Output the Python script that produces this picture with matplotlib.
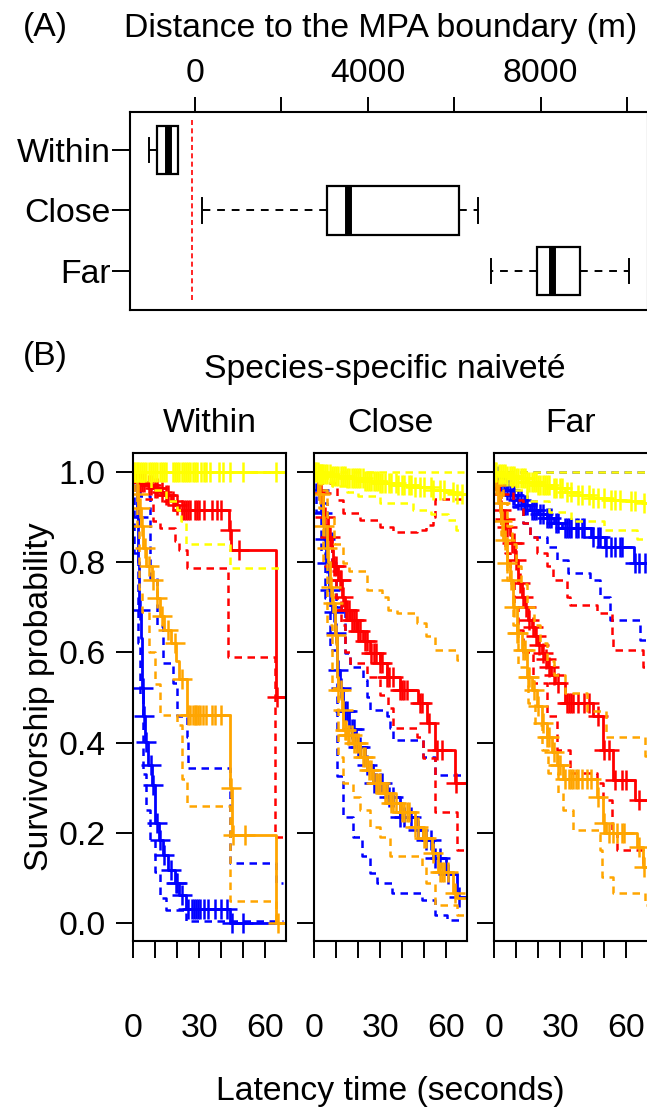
import numpy as np
import matplotlib
matplotlib.use('Agg')
import matplotlib.pyplot as plt

plt.rcParams['font.family'] = ['Liberation Sans', 'DejaVu Sans']
plt.rcParams['font.size'] = 24.3

# ---- panel A: distance to the MPA boundary (m) ----
groups = ['Within', 'Close', 'Far']
whislo = [-1056, 171, 6858]
q1 = [-876, 3062, 7917]
med = [-610, 3540, 8262]
q3 = [-381, 6105, 8900]
whishi = [-381, 6553, 10046]
boundary_x = -70
dist_ticks = [0, 2000, 4000, 6000, 8000, 10000]
dist_labels = ['0', '', '4000', '', '8000', '']

# ---- panel B: survival curves (step times, survival after step, censor times, CI) ----
# Within
within_blue_t = [1.5, 2.3, 2.7, 3.5, 4.0, 4.5, 5.5, 6.5, 8.5, 10, 11.5, 13.5, 16, 19, 21, 24, 44]
within_blue_s = [0.90, 0.80, 0.694, 0.632, 0.52, 0.458, 0.402, 0.35, 0.306, 0.221, 0.185, 0.151, 0.118, 0.089, 0.063, 0.031, 0.0]
within_blue_c = [2, 3, 4.3, 5, 6, 8, 9, 11, 12, 14, 17, 19.5, 20, 22, 25, 26.5, 27.5, 28.5, 29.5, 30.5, 32, 34, 37, 40, 42.5, 45, 50]
within_blue_hi_t = [2, 3, 7.6, 10.6, 13.6, 18.2, 19.7, 24.5, 25, 44, 65]
within_blue_hi_s = [0.99, 0.945, 0.764, 0.657, 0.576, 0.531, 0.458, 0.413, 0.343, 0.133, 0.089]
within_blue_lo_t = [0.5, 2, 3, 4.5, 6, 7.6, 10, 12, 15, 24]
within_blue_lo_s = [0.82, 0.62, 0.50, 0.33, 0.25, 0.185, 0.114, 0.055, 0.03, 0.004]

within_red_t = [0.8, 6, 9, 12, 14, 17, 19, 21, 43.5, 44.5, 65]
within_red_s = [0.977, 0.97, 0.963, 0.955, 0.947, 0.935, 0.925, 0.914, 0.87, 0.827, 0.50]
within_red_c = [2, 3, 4, 5, 7, 8, 10, 11, 13, 15, 16, 18, 20, 22, 23, 24, 25, 26, 28, 29, 30, 32, 36, 38, 40, 44, 48, 65.5]
within_red_hi_t = []
within_red_hi_s = []
within_red_lo_t = [2, 9, 12, 19, 21, 24.5, 43.2, 64.5]
within_red_lo_s = [0.94, 0.89, 0.874, 0.847, 0.827, 0.787, 0.59, 0.19]

within_orange_t = [0.5, 1.5, 2.3, 3.4, 4.5, 6, 8.5, 10.6, 12, 14, 17, 19.5, 21, 24.5, 44, 44.8, 64.7]
within_orange_s = [0.98, 0.95, 0.92, 0.88, 0.83, 0.79, 0.76, 0.72, 0.68, 0.65, 0.62, 0.58, 0.54, 0.46, 0.30, 0.195, 0.0]
within_orange_c = [2, 3, 4, 5.5, 7, 9, 11, 13, 16, 19, 22, 25, 26, 27, 28, 28.7, 29.5, 30.5, 31.5, 33, 36, 37, 40, 44.5, 45.5, 51, 66]
within_orange_hi_t = None
within_orange_hi_s = None
within_orange_lo_t = [0.5, 1.5, 2.5, 4, 7, 10, 12, 19.7, 22, 24.5, 44, 64.7]
within_orange_lo_s = [0.95, 0.87, 0.74, 0.69, 0.6, 0.53, 0.46, 0.44, 0.32, 0.26, 0.05, 0.0]

within_yellow_t = []
within_yellow_s = []
within_yellow_c = [0.5, 1, 1.5, 2, 3, 4, 5, 6, 7, 8, 9, 10, 11, 12, 13, 14, 15, 18, 19, 20, 21, 22, 23, 24, 25,
                   26, 27, 28, 29, 31, 32, 33, 35, 39, 41, 44, 50, 65]
within_yellow_hi_t = []
within_yellow_hi_s = []
within_yellow_lo_t = [3, 8, 15, 20, 21.5, 24, 44]
within_yellow_lo_s = [0.98, 0.96, 0.935, 0.914, 0.89, 0.84, 0.787]

# Close
close_blue_t = [1.5, 3, 4.5, 5.5, 6.5, 8, 9.5, 10.5, 11.5, 13, 16, 19, 23, 26.8, 32.9, 38.9, 46.5, 49.5, 54, 60, 64.7]
close_blue_s = [0.96, 0.908, 0.85, 0.797, 0.738, 0.69, 0.642, 0.56, 0.52, 0.47, 0.43, 0.39, 0.35, 0.31, 0.28, 0.236, 0.207, 0.185, 0.144, 0.11, 0.059]
close_blue_c = [2, 3.5, 5, 6, 7, 9, 10, 11, 12, 14, 15, 17, 18, 20, 21, 24, 27, 28, 30, 31, 34, 36, 39, 41, 44, 47, 51, 53, 55, 57, 61, 66]
close_blue_hi_t = [2, 4, 6, 8, 10, 13.9, 16.2, 22.3, 23.8, 25.3, 32.9, 34.4, 35.9, 49.5, 54.8]
close_blue_hi_s = [0.97, 0.93, 0.87, 0.80, 0.70, 0.598, 0.568, 0.539, 0.50, 0.472, 0.458, 0.432, 0.406, 0.369, 0.328]
close_blue_lo_t = [1, 3, 5, 7.1, 10.2, 13.2, 17.7, 21.5, 25.3, 28.3, 35.2, 48.8, 54.8, 60.2]
close_blue_lo_s = [0.91, 0.82, 0.72, 0.605, 0.325, 0.236, 0.192, 0.148, 0.111, 0.09, 0.066, 0.052, 0.018, 0.007]

close_red_t = [1.8, 4.1, 6.4, 7.9, 8.6, 10.9, 12.4, 13.9, 16.2, 19.2, 22.3, 25.3, 29.8, 32.9, 38.9, 47.3, 51.1, 54.8, 63.9]
close_red_s = [0.952, 0.90, 0.856, 0.827, 0.79, 0.76, 0.723, 0.694, 0.672, 0.646, 0.624, 0.598, 0.576, 0.546, 0.517, 0.487, 0.443, 0.384, 0.31]
close_red_c = [3, 5, 7, 9, 10, 11.5, 12, 13, 14.5, 15, 16, 17, 18, 19, 20, 21, 23, 24, 26, 27, 28, 30, 31, 33, 34, 36,
               39, 40, 41, 42, 48, 49, 52, 56, 58, 64.5]
close_red_hi_t = [3.3, 10.2, 13.2, 20.8, 29.8, 35.9, 46.5, 51, 54, 54.8]
close_red_hi_s = [0.974, 0.937, 0.908, 0.893, 0.878, 0.867, 0.871, 0.882, 0.90, 0.94]
close_red_lo_t = [2, 4, 6, 8, 10, 12, 13.9, 16.2, 23.8, 29.8, 33.6, 35.9, 46.5, 49.5, 54.8, 64.7]
close_red_lo_s = [0.96, 0.9, 0.85, 0.78, 0.72, 0.66, 0.60, 0.576, 0.546, 0.505, 0.476, 0.432, 0.413, 0.365, 0.247, 0.162]

close_orange_t = [1.8, 4.1, 5.6, 6.4, 7.1, 8, 9.4, 10.2, 10.9, 12.4, 13.2, 14.7, 17.7, 20.8, 23.8, 26.8, 31.4, 34.4,
                  38.9, 45.8, 49.5, 53.3, 56.4, 63.2, 64.7]
close_orange_s = [0.95, 0.88, 0.83, 0.80, 0.745, 0.708, 0.638, 0.546, 0.517, 0.472, 0.428, 0.417, 0.399, 0.369, 0.339,
                  0.31, 0.288, 0.266, 0.247, 0.214, 0.188, 0.155, 0.114, 0.066, 0.055]
close_orange_c = [2.5, 4.5, 6, 7.5, 8.5, 9.8, 11, 12, 13, 13.8, 14.5, 15.5, 16, 17, 18, 19, 20, 22, 23, 25, 26, 28, 29,
                  30, 32, 33, 35, 36, 37, 40, 41, 42, 43, 46, 47, 50, 51, 54, 57, 58, 59, 61, 64]
close_orange_hi_t = [3, 6, 9, 13, 16, 23.8, 30.6, 33.6, 37.4, 46.5, 51, 54.8, 64.7]
close_orange_hi_s = [0.96, 0.90, 0.84, 0.797, 0.78, 0.738, 0.723, 0.694, 0.686, 0.664, 0.635, 0.605, 0.583]
close_orange_lo_t = [2, 4, 6, 8, 10.9, 13.2, 17.7, 20.8, 25.3, 29.8, 34.4, 48.8, 51, 54.8, 64.7]
close_orange_lo_s = [0.92, 0.8, 0.66, 0.52, 0.369, 0.31, 0.28, 0.251, 0.214, 0.192, 0.148, 0.125, 0.089, 0.041, 0.018]

close_yellow_t = [2, 8, 15, 23, 30, 38, 46, 54, 60, 64]
close_yellow_s = [0.995, 0.99, 0.985, 0.98, 0.975, 0.97, 0.965, 0.96, 0.955, 0.95]
close_yellow_c = [0.5, 1, 1.5, 2, 2.5, 3, 3.5, 4, 5, 6, 7, 8, 9, 10, 11, 12, 13, 14, 15, 16, 17, 18, 19, 20, 21, 22,
                  23, 24, 25, 26, 27, 28, 29, 30, 31, 32, 34, 35, 37, 38, 40, 41, 43, 44, 46, 48, 50, 53, 54, 57, 59,
                  63, 65, 67]
close_yellow_hi_t = []
close_yellow_hi_s = []
close_yellow_lo_t = [2, 8, 15, 20, 30, 45, 53, 61, 64.5]
close_yellow_lo_s = [0.985, 0.967, 0.955, 0.945, 0.93, 0.915, 0.905, 0.893, 0.871]

# Far
far_blue_t = [1, 2.6, 4, 5.6, 8, 10.2, 13, 16.2, 20, 23.8, 27, 31, 44, 50.5, 63.5]
far_blue_s = [0.99, 0.98, 0.97, 0.96, 0.948, 0.937, 0.926, 0.915, 0.906, 0.897, 0.886, 0.875, 0.856, 0.834, 0.797]
far_blue_c = [1.5, 3, 4.5, 6, 7, 8.5, 9, 11, 12, 13.5, 14, 15, 17, 18, 19, 21, 22, 24, 25, 26, 28, 29, 32, 33, 34,
              35, 37, 38, 40, 41, 45, 47, 48, 51, 53, 55, 57, 58, 64, 66, 68.5]
far_blue_hi_t = []
far_blue_hi_s = []
far_blue_lo_t = [3, 5, 8.6, 13.2, 16.2, 23.8, 28.3, 33.6, 43.5, 48, 52.6, 66.2]
far_blue_lo_s = [0.985, 0.96, 0.922, 0.886, 0.856, 0.834, 0.804, 0.775, 0.76, 0.723, 0.672, 0.627]

far_red_t = [1, 2, 2.6, 4, 5.6, 7, 7.9, 9.4, 10.9, 12.4, 14, 15.5, 17, 18.5, 20, 21.5, 23, 24.5, 26, 27.6, 32.1, 45,
             49.5, 54.1, 63.9]
far_red_s = [0.98, 0.95, 0.915, 0.895, 0.878, 0.86, 0.841, 0.804, 0.753, 0.723, 0.70, 0.672, 0.655, 0.635, 0.615,
             0.598, 0.585, 0.568, 0.55, 0.531, 0.487, 0.458, 0.384, 0.317, 0.273]
far_red_c = [2, 3, 5, 6, 8, 9, 10, 11.5, 13, 14.5, 16, 17.5, 19, 20.5, 22, 23.5, 25, 27, 29, 33, 34, 35, 36, 38, 41,
             43, 47, 50, 52, 55, 58, 60, 66]
far_red_hi_t = [2.6, 8.6, 13.2, 16.2, 19.2, 23.8, 26.8, 32.9, 34.4, 46.5, 53.3, 54.1, 67.7]
far_red_hi_s = [0.974, 0.937, 0.886, 0.856, 0.82, 0.79, 0.76, 0.723, 0.705, 0.686, 0.635, 0.605, 0.568]
far_red_lo_t = [1, 3, 5, 7, 9, 11, 13, 17.7, 23.8, 28.3, 34.4, 46.5, 49.5, 53.3, 55.6, 67.7]
far_red_lo_s = [0.95, 0.88, 0.82, 0.76, 0.70, 0.65, 0.60, 0.531, 0.458, 0.384, 0.332, 0.31, 0.273, 0.20, 0.162, 0.133]

far_orange_t = [0.5, 1.8, 3, 4.1, 5.6, 7.1, 8.6, 10.2, 12.4, 14.7, 17, 19.2, 21.5, 23.8, 26.1, 28.3, 31.4, 46.5,
                49.5, 51, 64.7, 67.7]
far_orange_s = [0.97, 0.93, 0.89, 0.849, 0.797, 0.76, 0.70, 0.642, 0.605, 0.546, 0.517, 0.48, 0.443, 0.413, 0.38,
                0.35, 0.32, 0.28, 0.221, 0.2, 0.17, 0.125]
far_orange_c = [1, 2.5, 3.5, 5, 6, 7.5, 9, 10.5, 11, 13, 14, 15.5, 16, 18, 20, 22, 24, 25, 27, 29, 30, 32, 34, 35,
                36, 37, 38, 40, 42, 44, 47, 50, 52, 54, 56, 58, 59, 66, 68]
far_orange_hi_t = [2, 4, 6, 8, 10, 12, 15, 18, 21, 24, 27, 32, 42, 51, 68.5]
far_orange_hi_s = [0.97, 0.93, 0.88, 0.84, 0.79, 0.75, 0.70, 0.66, 0.62, 0.58, 0.55, 0.51, 0.47, 0.413, 0.37]
far_orange_lo_t = [3, 6, 8.6, 10.9, 15.5, 18.5, 21.5, 24.5, 29, 31.4, 36, 48, 48.8, 54, 68.5]
far_orange_lo_s = [0.86, 0.76, 0.66, 0.568, 0.487, 0.44, 0.384, 0.332, 0.288, 0.25, 0.207, 0.162, 0.103, 0.066, 0.04]

far_yellow_t = [2, 6, 10, 15, 20, 26, 32, 38, 45, 52, 60, 67]
far_yellow_s = [0.995, 0.99, 0.985, 0.977, 0.97, 0.963, 0.955, 0.948, 0.942, 0.938, 0.934, 0.93]
far_yellow_c = [0.5, 1, 2, 3, 4, 5, 6, 7, 8, 9, 10, 11, 12, 13, 14, 15, 16, 17, 18, 19, 20, 21, 22, 23, 24, 25, 27,
                28, 30, 31, 33, 35, 38, 40, 43, 45, 47, 50, 53, 55, 57, 62, 64, 68]
far_yellow_hi_t = []
far_yellow_hi_s = []
far_yellow_lo_t = [3, 8, 15, 25, 35, 50, 65]
far_yellow_lo_s = [0.98, 0.96, 0.935, 0.91, 0.89, 0.87, 0.85]

colors = {'blue': '#0000FF', 'red': '#FF0000', 'orange': '#FFA500', 'yellow': '#FFFF00'}
draw_order = ['blue', 'red', 'orange', 'yellow']
end_time = {'Within': 68, 'Close': 68, 'Far': 71}


def step_xy(t, s, end):
    x = [0.0] + list(t) + [end]
    y = [1.0] + list(s) + [s[-1] if len(s) else 1.0]
    return x, y


def surv_at(t, s, c):
    idx = np.searchsorted(np.asarray(t, float), np.asarray(c, float), side='right') - 1
    sv = np.asarray([1.0] + list(s))
    return sv[idx + 1]


W, H = 647, 1120
fig = plt.figure(figsize=(W / 100, H / 100), dpi=100)

# ---------------- panel A ----------------
axA = fig.add_axes([130 / W, 1 - 310 / H, 518 / W, 197.7 / H])
stats = []
for i, g in enumerate(groups):
    stats.append(dict(label=g, med=med[i], q1=q1[i], q3=q3[i],
                      whislo=whislo[i], whishi=whishi[i], fliers=[]))
axA.bxp(stats, positions=[1, 2, 3], widths=0.8, orientation='horizontal',
        patch_artist=True, showfliers=False, capwidths=0.4,
        boxprops=dict(facecolor='white', edgecolor='black', lw=1.6),
        medianprops=dict(color='black', lw=5, solid_capstyle='butt'),
        whiskerprops=dict(color='black', lw=1.4, linestyle=(0, (4, 3.5))),
        capprops=dict(color='black', lw=1.4))
axA.vlines(boundary_x, 0.5, 3.5, color='red', lw=1.2, linestyles=(0, (3, 2)))
axA.set_xlim(-1496, 10480)
axA.set_ylim(3.645, 0.377)
axA.set_yticks([1, 2, 3])
axA.set_yticklabels(groups)
axA.xaxis.tick_top()
axA.set_xticks(dist_ticks)
axA.set_xticklabels(dist_labels)
axA.tick_params(axis='x', length=11, width=1.4, pad=6)
axA.tick_params(axis='y', length=13, width=1.4, pad=1)
for sp in axA.spines.values():
    sp.set_linewidth(1.5)
fig.text(45 / W, 1 - 36 / H, '(A)', ha='center', va='baseline')
fig.text(381 / W, 1 - 37 / H, 'Distance to the MPA boundary (m)', ha='center', va='baseline')

# ---------------- panel B ----------------
g = globals()
lefts = [133.3, 314.3, 494.3]
widths = [152.4, 152.4, 154.5]
for k, panel in enumerate(groups):
    ax = fig.add_axes([lefts[k] / W, 1 - 940.7 / H, widths[k] / W, 487.7 / H])
    pre = panel.lower()
    end = end_time[panel]
    for col in draw_order:
        c = colors[col]
        for part in ['hi', 'lo']:
            tt = g[pre + '_' + col + '_' + part + '_t']
            ss = g[pre + '_' + col + '_' + part + '_s']
            if tt is None:
                continue
            x, y = step_xy(tt, ss, end)
            ax.step(x, y, where='post', color=c, lw=1.8, linestyle=(0, (3, 2.2)))
        tt = g[pre + '_' + col + '_t']
        ss = g[pre + '_' + col + '_s']
        cc = g[pre + '_' + col + '_c']
        x, y = step_xy(tt, ss, end)
        ax.step(x, y, where='post', color=c, lw=2.0)
        ax.plot(cc, surv_at(tt, ss, cc), linestyle='none', marker='+', ms=14, mew=1.8, color=c)
    ax.set_xlim(0, 69.3 * widths[k] / 152.4)
    ax.set_ylim(-0.0385, 1.041)
    ax.set_xticks(np.arange(0, 70, 10))
    ax.set_xticklabels(['0', '', '', '30', '', '', '60'])
    ax.set_yticks(np.arange(0, 1.01, 0.2))
    if k == 0:
        ax.set_yticklabels(['0.0', '0.2', '0.4', '0.6', '0.8', '1.0'])
    else:
        ax.set_yticklabels([])
    ax.tick_params(axis='x', length=12, width=1.4, pad=40)
    ax.tick_params(axis='y', length=12, width=1.4, pad=8)
    for sp in ax.spines.values():
        sp.set_linewidth(1.5)
    fig.text((lefts[k] + 76.2) / W, 1 - 432 / H, panel, ha='center', va='baseline')

fig.text(45 / W, 1 - 365 / H, '(B)', ha='center', va='baseline')
fig.text(385 / W, 1 - 378 / H, 'Species-specific naiveté', ha='center', va='baseline')
fig.text(40 / W, 1 - 697 / H, 'Survivorship probability', rotation=90, ha='center', va='center')
fig.text(390 / W, 1 - 1100 / H, 'Latency time (seconds)', ha='center', va='baseline')

fig.savefig('out.png', dpi=100)
